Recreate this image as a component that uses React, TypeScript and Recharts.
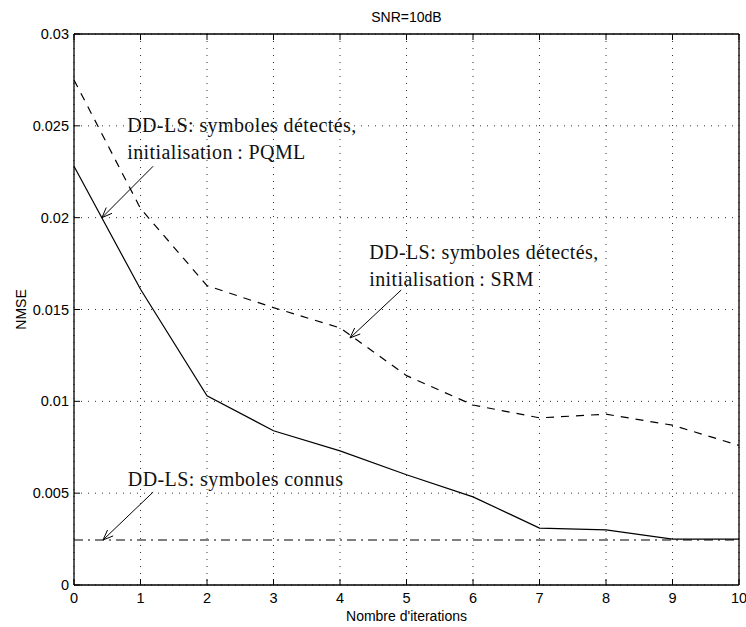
import { LineChart, Line, XAxis, YAxis, CartesianGrid, ReferenceLine, ReferenceDot } from 'recharts'

const iterations = [0, 1, 2, 3, 4, 5, 6, 7, 8, 9, 10]
const nmsePqml = [0.0228, 0.0161, 0.0103, 0.0084, 0.0073, 0.0060, 0.0048, 0.0031, 0.0030, 0.0025, 0.0025]
const nmseSrm = [0.0275, 0.0205, 0.0163, 0.0151, 0.0140, 0.0114, 0.0098, 0.0091, 0.0093, 0.0087, 0.0076]
const nmseKnown = [0.00245, 0.00245, 0.00245, 0.00245, 0.00245, 0.00245, 0.00245, 0.00245, 0.00245, 0.00245, 0.00245]
const xTicks = [0, 1, 2, 3, 4, 5, 6, 7, 8, 9, 10]
const yTicks = [0, 0.005, 0.01, 0.015, 0.02, 0.025, 0.03]
const yTickLabels = ['0', '0.005', '0.01', '0.015', '0.02', '0.025', '0.03']

// annotation text (first line centre) and arrow, in data units
const notes = [
  { lines: ['DD-LS: symboles détectés,', 'initialisation\u2009: PQML'], x: 0.8, y: 0.02505, from: { x: 1.19, y: 0.0228 }, to: { x: 0.42, y: 0.0200 } },
  { lines: ['DD-LS: symboles détectés,', 'initialisation\u2009: SRM'], x: 4.44, y: 0.01813, from: { x: 4.92, y: 0.01606 }, to: { x: 4.15, y: 0.01345 } },
  { lines: ['DD-LS: symboles connus'], x: 0.81, y: 0.00577, from: { x: 1.19, y: 0.00506 }, to: { x: 0.436, y: 0.00245 } },
]

const data = iterations.map((it, i) => ({ it, pqml: nmsePqml[i], srm: nmseSrm[i], known: nmseKnown[i] }))

const sans = '"Liberation Sans", Arial, Helvetica, sans-serif'
const serif = '"Liberation Serif", "Times New Roman", serif'
const TICK = 6

const BottomTick = (p: any) => (
  <g>
    <line x1={p.x} y1={p.y} x2={p.x} y2={p.y - TICK} stroke="#000" />
    <text x={p.x} y={p.y + 18} textAnchor="middle" fontFamily={sans} fontSize={14.5} fill="#000">{p.payload.value}</text>
  </g>
)

const TopTick = (p: any) => <line x1={p.x} y1={p.y} x2={p.x} y2={p.y + TICK} stroke="#000" />

const LeftTick = (p: any) => (
  <g>
    <line x1={p.x} y1={p.y} x2={p.x + TICK} y2={p.y} stroke="#000" />
    <text x={p.x - 5} y={p.y + 5} textAnchor="end" fontFamily={sans} fontSize={14.5} fill="#000">
      {yTickLabels[yTicks.indexOf(p.payload.value)]}
    </text>
  </g>
)

const RightTick = (p: any) => <line x1={p.x} y1={p.y} x2={p.x - TICK} y2={p.y} stroke="#000" />

const Arrow = (p: any) => {
  const { x1, y1, x2, y2 } = p
  const a = Math.atan2(y2 - y1, x2 - x1)
  const h = 11
  const s = 0.38
  const lx = x2 - h * Math.cos(a - s)
  const ly = y2 - h * Math.sin(a - s)
  const rx = x2 - h * Math.cos(a + s)
  const ry = y2 - h * Math.sin(a + s)
  return (
    <g>
      <line x1={x1} y1={y1} x2={x2} y2={y2} stroke="#000" strokeWidth={1} />
      <polyline points={`${lx},${ly} ${x2},${y2} ${rx},${ry}`} fill="none" stroke="#000" strokeWidth={1} />
    </g>
  )
}

const NoteText = (lines: string[]) => (p: any) => (
  <text x={p.cx} y={p.cy + 7} fontFamily={serif} fontSize={20} letterSpacing={0.4} fill="#111">
    {lines.map((l, i) => (
      <tspan key={i} x={p.cx} dy={i === 0 ? 0 : 27}>{l}</tspan>
    ))}
  </text>
)

export default function App() {
  return (
    <div style={{ width: 746, height: 627, background: '#fff' }}>
      <style>{'body{margin:0}'}</style>
      <LineChart width={746} height={627} data={data} margin={{ top: 33, right: 6, bottom: 0, left: 0 }}>
        <CartesianGrid stroke="#333" strokeDasharray="1 6" />
        <XAxis
          dataKey="it"
          type="number"
          domain={[0, 10]}
          ticks={xTicks}
          interval={0}
          height={42}
          tickSize={0}
          tickMargin={0}
          axisLine={{ stroke: '#000', strokeWidth: 1.3 }}
          tick={<BottomTick />}
          label={{ value: "Nombre d'iterations", position: 'insideBottom', offset: 6, fontFamily: sans, fontSize: 14, fill: '#000' }}
        />
        <XAxis
          xAxisId="top"
          orientation="top"
          type="number"
          domain={[0, 10]}
          ticks={xTicks}
          interval={0}
          height={1}
          tickSize={0}
          tickMargin={0}
          axisLine={{ stroke: '#000', strokeWidth: 1.3 }}
          tick={<TopTick />}
          label={{ value: 'SNR=10dB', position: 'top', offset: 11, fontFamily: sans, fontSize: 14, fill: '#000' }}
        />
        <YAxis
          type="number"
          domain={[0, 0.03]}
          ticks={yTicks}
          interval={0}
          width={74}
          tickSize={0}
          tickMargin={0}
          axisLine={{ stroke: '#000', strokeWidth: 1.3 }}
          tick={<LeftTick />}
          label={{
            content: (p: any) => {
              const vb = p.viewBox
              const cx = vb.x + 21
              const cy = vb.y + vb.height / 2
              return (
                <text x={cx} y={cy} transform={`rotate(-90 ${cx} ${cy})`} textAnchor="middle" dominantBaseline="central" fontFamily={sans} fontSize={14} fill="#000">NMSE</text>
              )
            },
          }}
        />
        <YAxis
          yAxisId="right"
          orientation="right"
          type="number"
          domain={[0, 0.03]}
          ticks={yTicks}
          interval={0}
          width={1}
          tickSize={0}
          tickMargin={0}
          axisLine={{ stroke: '#000', strokeWidth: 1.3 }}
          tick={<RightTick />}
        />
        <Line dataKey="srm" stroke="#000" strokeWidth={1.2} strokeDasharray="8 7" dot={false} isAnimationActive={false} />
        <Line dataKey="pqml" stroke="#000" strokeWidth={1.2} dot={false} isAnimationActive={false} />
        <Line dataKey="known" stroke="#000" strokeWidth={1.2} strokeDasharray="9 5 2 5" dot={false} isAnimationActive={false} />
        {notes.map((n, i) => (
          <ReferenceLine key={`a${i}`} segment={[n.from, n.to]} shape={Arrow} />
        ))}
        {notes.map((n, i) => (
          <ReferenceDot key={`t${i}`} x={n.x} y={n.y} r={0} shape={NoteText(n.lines)} />
        ))}
      </LineChart>
    </div>
  )
}
